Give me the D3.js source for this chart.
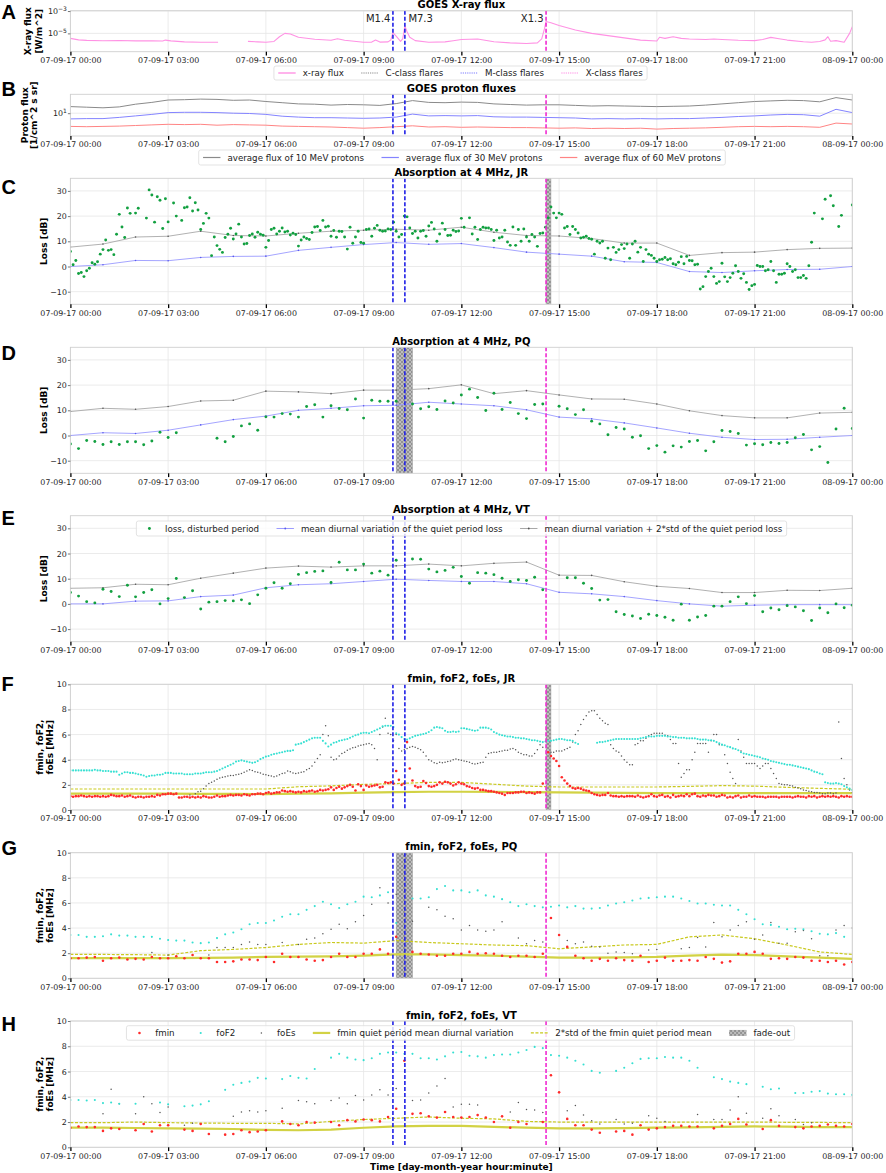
<!DOCTYPE html>
<html>
<head>
<meta charset="utf-8">
<script src="https://cdn.jsdelivr.net/npm/d3@7"></script>
<style>
  body { margin: 0; background: #fff; }
  svg { display: block; }
</style>
</head>
<body>
<svg id="chart" width="886" height="1173"></svg>
<script>
// ---------------- data ----------------
const hourTicks = [0, 3, 6, 9, 12, 15, 18, 21, 24];
const tickLabels = ['07-09-17 00:00', '07-09-17 03:00', '07-09-17 06:00', '07-09-17 09:00',
  '07-09-17 12:00', '07-09-17 15:00', '07-09-17 18:00', '07-09-17 21:00', '08-09-17 00:00'];

const flareNames = ['M1.4', 'M7.3', 'X1.3'];
const flareTimes = ['09:54', '10:16', '14:36'];
const flareClass = ['M', 'M', 'X'];

// GOES X-ray flux, log10(W/m^2)
const xrayTimes = ['00:00','00:15','00:30','01:00','01:30','02:00','02:30','02:50','02:55','03:05','03:30','04:00','04:15','04:32','05:00',
  '05:27','05:45','06:00','06:15','06:25','06:35','06:45','07:00','07:30','08:00','08:12','08:25','09:00','09:15','09:22','09:30','09:45',
  '09:50','09:54','10:00','10:08','10:12','10:16','10:20','10:25','10:35','11:00','11:30','11:45','12:00','12:30','13:00','13:30','14:00',
  '14:20','14:28','14:33','14:36','14:45','15:00','15:30','16:00','16:30','17:00','17:30','18:00','18:05','18:15','18:30','18:45','19:00',
  '19:30','19:45','20:00','20:30','21:00','21:15','21:30','21:45','22:00','22:30','22:45','23:00','23:10','23:15','23:20','23:30','23:45',
  '23:55','24:00'];
const xrayLog = [-5.45,-5.58,-5.63,-5.66,-5.64,-5.67,-5.66,-5.68,-5.6,-5.67,-5.76,-5.8,-5.79,-5.8,null,
  -5.72,-5.76,-5.8,-5.72,-5.3,-5.0,-5.05,-5.35,-5.52,-5.62,-5.48,-5.62,-5.8,-5.78,-5.6,-5.78,-5.76,
  -5.6,-4.94,-5.25,-5.72,-5.5,-4.34,-4.85,-5.35,-5.65,-5.8,-5.76,-5.66,-5.55,-5.5,-5.75,-5.85,-5.9,
  -5.85,-5.5,-4.6,-3.93,-4.05,-4.3,-4.7,-5.0,-5.2,-5.4,-5.6,-5.68,-5.35,-5.45,-5.3,-5.45,-5.5,
  -5.55,-5.5,-5.55,-5.62,-5.65,-5.55,-5.36,-5.48,-5.6,-5.75,-5.8,-5.72,-5.58,-5.3,-5.7,-5.65,-5.8,
  -5.0,-4.4];

// GOES proton fluxes, log10, every 30 min
const proton10 = [1.22,1.2,1.18,1.21,1.3,1.36,1.44,1.45,1.47,1.46,1.43,1.44,1.39,1.35,1.31,1.3,1.27,1.29,1.28,1.26,1.32,1.42,1.36,1.35,
  1.37,1.36,1.31,1.29,1.27,1.28,1.28,1.26,1.24,1.25,1.24,1.23,1.22,1.23,1.24,1.27,1.31,1.35,1.39,1.41,1.43,1.42,1.38,1.52,1.44];
const proton30 = [0.81,0.82,0.82,0.86,0.91,0.96,1.02,1.03,1.03,1.02,1.0,0.99,0.96,0.9,0.87,0.85,0.85,0.84,0.83,0.84,0.87,0.97,0.91,0.92,
  0.91,0.92,0.88,0.87,0.87,0.86,0.85,0.84,0.81,0.82,0.81,0.82,0.81,0.82,0.82,0.84,0.86,0.89,0.91,0.94,0.96,0.95,0.9,1.13,1.02];
const proton60 = [0.56,0.55,0.56,0.57,0.59,0.61,0.63,0.62,0.63,0.6,0.62,0.61,0.6,0.57,0.56,0.55,0.54,0.52,0.5,0.52,0.55,0.58,0.54,0.55,
  0.53,0.54,0.53,0.52,0.52,0.51,0.5,0.51,0.49,0.5,0.49,0.5,0.47,0.49,0.5,0.51,0.53,0.55,0.56,0.55,0.56,0.55,0.53,0.67,0.64];

// Absorption at 4 MHz, JR: loss every 5 min (dB)
const lossJR = [
  6.0,0.7,2.4,-2.8,-2.4,-4.0,-1.7,-0.7,1.5,0.9,1.9,4.9,
  6.7,10.5,6.4,6.7,4.7,12.8,20.7,15.7,11.5,23.2,21.1,null,
  21.2,23.1,null,null,19.2,30.4,28.4,17.6,27.7,26.3,15.1,26.9,
  17.7,null,25.2,20.0,null,18.3,23.3,23.6,27.3,22.0,25.3,22.4,
  14.7,17.1,21.1,19.2,4.3,11.7,8.3,6.8,5.6,11.5,12.8,15.2,
  10.9,12.9,16.8,11.7,8.9,9.1,12.3,12.9,11.6,13.6,12.8,12.4,
  7.6,10.3,14.7,15.2,12.9,14.0,15.3,13.7,14.0,12.5,13.2,12.7,
  8.1,10.5,11.7,11.1,10.7,13.5,15.7,15.9,14.3,18.3,15.7,16.0,
  12.0,14.3,11.6,14.0,13.9,11.7,6.9,15.6,9.2,11.7,14.0,9.5,
  9.2,14.7,14.9,12.0,15.2,16.3,14.4,14.0,14.1,14.9,14.7,17.6,
  14.0,11.7,12.7,20.0,19.7,15.3,13.1,14.0,11.3,14.0,14.3,12.0,
  16.1,17.5,14.9,10.0,12.9,17.2,14.7,12.3,12.4,14.4,13.9,14.1,
  19.1,15.6,null,19.3,12.9,15.6,10.7,14.7,15.6,15.3,15.3,14.7,
  10.3,14.4,11.3,11.7,14.4,9.7,8.4,15.7,8.4,14.7,10.0,14.9,
  11.7,10.0,12.7,11.7,8.0,13.1,13.3,15.6,19.3,23.6,21.2,19.3,
  21.2,20.7,15.3,15.9,12.7,15.9,14.7,13.3,11.3,11.6,12.0,11.1,
  10.8,4.9,10.0,9.3,10.0,3.3,7.3,2.7,7.6,5.6,6.7,8.7,
  7.1,8.9,3.3,8.9,10.0,5.7,7.6,2.0,6.7,4.9,4.4,3.3,
  2.0,2.7,2.9,3.6,2.7,3.1,1.1,0.7,1.7,3.9,1.1,4.0,
  2.4,2.3,0.7,0.9,-8.9,-8.0,-4.0,-2.0,-0.7,-4.0,-6.7,-6.0,
  1.3,-4.1,-6.0,-4.4,-2.7,0.3,-2.0,-4.7,-2.9,-6.3,-9.1,-7.6,
  -7.1,0.4,0.0,0.0,-1.7,-1.3,2.0,-1.7,-6.3,-3.1,-3.1,-2.7,
  1.1,0.0,-2.0,-1.3,-4.4,-4.4,-3.6,-4.7,0.3,9.6,21.2,null,
  null,18.9,26.7,null,28.1,24.1,null,15.9,20.3,null,null,null,
  24.4];
// quiet period mean and mean + 2*std, hourly
const quietJR = [0,0.7,2.4,2.3,3.6,4.0,4.1,6.4,7.6,8.7,9.5,8.8,9.1,7.5,5.7,4.9,4.1,1.9,1.6,-2.0,-2.4,-1.7,-1.2,-1.1,0];
const quietStdJR = [7.7,8.9,11.7,12.0,14.0,12.3,12.1,13.2,14.0,14.4,14.8,14.4,15.6,13.6,12.3,12.1,11.1,9.3,9.3,4.4,5.5,5.7,6.7,7.2,7.3];

// Absorption at 4 MHz, PQ: loss every 15 min
const lossPQ = [-3.4,-5.2,-2.0,-2.4,-3.6,-2.5,-3.6,-2.5,-2.5,-3.7,-2.2,1.3,-0.8,1.1,null,null,null,null,-1.1,-2.5,-0.4,3.8,4.6,2.1,
  7.4,7.3,8.7,8.5,7.3,11.5,12.2,7.3,11.8,10.7,10.2,14.5,6.9,14.0,13.6,13.6,13.6,null,12.5,10.6,11.4,10.3,13.7,12.9,
  16.1,18.4,15.1,9.9,16.8,10.3,13.1,8.7,6.7,12.3,12.5,null,11.6,10.6,8.3,10.2,5.7,4.6,0.3,3.2,2.6,-0.7,-0.1,-5.2,
  -4.0,-6.6,-4.1,-4.6,-2.4,-2.0,-6.1,-2.5,2.0,1.6,0.8,-3.8,-3.3,-3.7,-2.8,-3.2,-2.8,-0.9,0.4,-5.7,-4.4,-10.7,2.6,10.8,2.8];
const quietPQ = [0,1.1,0.8,2.1,4.2,6.3,7.7,10.0,10.8,11.8,12.0,13.2,12.5,11.8,10.2,7.3,6.6,5.0,3.0,0.9,-0.7,-1.6,-1.5,-0.7,0];
const quietStdPQ = [9.5,10.8,10.4,11.5,13.7,14.0,17.6,17.3,16.6,18.0,18.0,18.6,20.1,16.6,17.8,16.1,14.5,14.4,12.5,9.8,7.9,7.0,7.0,8.9,9.2];

// Absorption at 4 MHz, VT: loss every 15 min
const lossVT = [4.5,3.1,0.9,0.4,5.8,4.9,2.9,7.4,2.8,4.5,5.6,0.0,2.1,10.1,2.5,5.2,-2.0,0.7,0.9,1.3,1.2,1.6,0.1,3.6,
  6.2,8.4,6.2,8.0,11.7,12.4,12.9,13.1,8.5,16.5,13.5,13.5,15.8,12.2,13.0,11.4,17.3,null,17.8,17.7,13.8,12.7,13.3,14.5,
  10.9,8.2,12.4,12.2,11.6,10.2,8.9,9.6,9.3,10.6,5.6,null,null,10.4,10.4,8.2,6.1,1.5,1.7,-3.1,-4.2,-4.8,-5.8,-4.1,
  -4.6,-5.3,-6.5,-0.1,-6.5,-5.2,-4.6,-0.9,-0.9,0.9,2.8,0.1,3.3,-3.1,-1.6,-2.3,-0.7,-1.2,-2.7,-6.6,-1.6,-3.5,0.0,-1.5,-0.5];
const quietVT = [0,0,1.1,1.2,2.9,3.5,6.4,7.6,8.0,8.9,9.8,9.3,8.9,8.9,8.0,4.6,4.0,2.9,1.3,0,-0.9,-0.5,-0.3,-0.3,-0.3];
const quietStdVT = [6.2,6.4,7.8,7.6,10.2,12.2,14.2,15.0,14.6,15.1,15.1,15.8,15.1,16.1,16.6,11.4,11.3,8.8,7.0,6.1,4.5,4.5,5.4,5.3,6.2];

// fmin, foF2, foEs at JR every 5 min (MHz)
const fminJR = [
  1.1,1.05,1.1,1.1,1.15,1.1,1.05,1.1,1.05,1.1,1.1,1.05,
  1.1,1.05,1.1,1.2,1.15,1.1,1.1,1.15,1.05,1.1,1.15,1.05,
  1.0,1.05,1.05,1.0,1.05,1.05,1.1,1.05,1.2,1.15,1.25,1.25,
  1.3,1.3,1.25,1.3,1.0,1.0,1.05,1.05,1.0,1.05,1.0,1.05,
  1.0,1.1,1.05,1.0,1.0,1.05,1.15,1.05,1.1,1.1,1.15,1.2,
  1.15,1.2,1.2,1.15,1.25,1.2,1.15,1.25,1.25,1.3,1.3,1.25,
  1.35,1.4,1.3,1.35,1.4,1.4,1.55,1.5,1.45,1.5,1.45,1.4,
  1.45,1.4,1.5,1.45,1.5,1.55,1.45,1.5,1.6,1.55,1.6,1.65,
  1.8,1.6,1.75,1.85,1.7,1.8,1.9,2.0,1.85,1.55,2.05,1.9,
  1.6,1.95,1.85,1.9,1.95,2.0,1.8,1.85,2.2,2.15,2.2,2.1,
  3.1,2.4,2.0,2.1,5.4,3.3,2.35,1.9,1.8,1.85,2.3,2.15,
  1.9,1.85,1.9,2.0,2.2,2.1,2.25,2.2,2.1,1.95,2.05,2.2,
  2.1,2.05,1.9,1.85,1.75,1.7,1.75,1.6,1.6,1.55,1.5,1.5,
  1.45,1.4,1.35,1.3,1.2,1.35,1.35,1.35,1.4,1.4,1.45,1.45,
  1.35,1.4,1.35,1.3,1.4,1.4,2.1,null,4.6,4.3,4.1,3.9,
  3.5,2.6,2.35,2.1,1.9,1.75,1.7,1.75,1.7,1.6,1.55,1.5,
  1.35,1.25,1.2,1.15,1.2,1.2,1.35,1.15,1.1,1.1,1.05,1.1,
  1.05,1.1,1.1,1.1,1.05,1.15,1.05,1.0,1.05,1.1,1.25,1.1,
  1.05,1.15,1.2,1.05,1.1,1.0,1.2,1.05,1.1,1.15,1.1,1.25,
  1.1,1.25,1.3,1.1,1.05,1.15,1.1,1.2,1.15,1.15,1.05,1.1,
  1.2,1.15,1.0,1.05,1.0,1.1,1.15,1.0,1.05,1.05,1.15,1.05,
  1.1,1.05,1.05,1.05,1.0,1.05,1.05,1.05,1.05,1.0,1.05,1.05,
  1.05,1.05,1.0,1.05,1.1,1.05,1.05,1.0,1.1,1.05,1.1,1.0,
  1.05,1.1,1.05,1.1,1.05,1.1,1.05,1.0,1.1,1.05,1.1,1.05,
  1.05];
const foF2JR = [
  3.15,3.15,3.15,3.15,3.15,3.15,3.15,3.15,3.15,3.2,3.15,3.15,
  3.1,3.1,3.1,3.05,3.05,3.05,2.8,2.9,3.0,3.0,2.95,2.95,
  2.9,2.85,2.8,2.75,2.65,2.7,2.75,2.75,2.8,2.8,2.85,2.95,
  2.95,2.95,2.9,2.9,2.9,2.9,2.85,2.85,2.85,2.85,2.9,2.9,
  2.9,2.95,3.0,3.0,3.0,3.05,3.1,3.2,3.3,3.4,3.5,3.6,
  3.7,3.85,3.9,3.95,3.9,3.85,3.8,3.75,3.8,3.9,4.05,4.15,
  4.25,4.3,4.4,4.45,4.5,4.55,4.6,4.65,4.7,4.7,4.75,5.2,
  5.25,5.3,5.4,5.5,5.6,5.7,5.75,5.75,5.75,5.5,5.3,5.05,
  5.2,5.35,5.4,5.5,5.55,5.6,5.65,5.75,5.85,5.95,6.0,6.1,
  6.15,6.15,6.1,6.2,6.3,6.4,6.5,6.65,6.7,6.7,6.7,6.6,
  6.1,6.0,5.8,5.65,5.6,5.7,5.8,5.9,5.95,6.0,6.05,6.1,
  6.2,6.35,6.55,6.6,6.55,6.5,6.3,6.2,6.2,6.25,6.2,6.25,
  6.5,6.5,6.45,6.4,6.35,6.3,6.35,6.55,6.55,6.55,6.5,6.4,
  6.2,6.1,6.0,5.95,5.9,5.85,5.85,5.8,5.75,5.75,5.7,5.7,
  5.65,5.6,5.55,5.55,5.5,5.45,5.4,5.45,5.5,5.5,5.55,5.6,
  5.65,5.65,5.6,5.55,5.55,5.5,5.35,5.25,null,null,null,null,
  null,null,5.35,5.4,5.4,5.45,5.5,5.55,5.6,5.65,5.65,5.65,
  5.65,5.65,5.65,5.65,5.65,5.65,5.7,5.75,5.8,5.85,5.85,5.85,
  5.9,5.9,5.9,5.9,5.85,5.85,5.8,5.8,5.75,5.75,5.75,5.7,
  5.7,5.7,5.7,5.65,5.6,5.6,5.6,5.55,5.55,5.5,5.4,5.3,
  5.2,5.15,5.05,5.0,4.9,4.85,4.75,4.6,4.5,4.45,4.4,4.35,
  4.3,4.25,4.2,4.1,4.05,4.0,3.9,3.85,3.8,3.75,3.7,3.65,
  3.6,3.6,3.55,3.5,3.45,3.4,3.35,3.3,3.25,3.15,3.05,3.0,
  2.9,2.85,2.2,2.15,2.1,2.1,2.15,2.1,2.05,1.9,1.8,1.7,
  1.6];
const foEsJR = [
  null,null,null,null,null,null,null,null,null,null,null,null,
  null,null,null,null,null,null,null,null,null,null,null,null,
  null,null,null,null,null,null,null,null,null,null,null,null,
  null,null,null,null,null,null,null,null,1.2,null,1.3,1.45,
  1.5,1.7,1.9,2.1,2.2,2.3,2.45,2.55,2.6,2.65,2.7,2.75,
  2.75,2.8,2.85,2.9,3.0,3.1,3.2,3.15,3.05,3.0,2.95,2.85,
  2.8,2.75,2.7,2.65,2.7,2.8,2.9,2.95,3.1,3.05,2.95,2.9,
  2.95,3.0,3.05,3.2,3.3,3.5,3.8,4.1,4.4,6.0,6.7,5.9,
  4.2,4.0,4.05,4.3,4.5,4.6,4.75,4.85,4.95,5.0,5.1,5.15,
  5.2,5.25,5.3,5.2,4.9,4.0,6.0,6.6,7.3,6.1,6.0,5.5,
  6.0,4.9,4.7,4.8,4.9,5.0,5.05,5.0,4.9,4.8,4.6,4.3,
  4.0,3.9,3.75,3.7,3.8,3.75,3.8,3.85,3.9,4.0,4.05,4.0,
  3.95,3.9,3.85,3.8,3.7,3.65,3.7,3.75,3.8,4.2,4.5,4.55,
  4.6,4.6,4.65,4.7,4.75,4.75,4.85,4.9,4.8,4.6,4.5,4.4,
  4.4,4.3,4.3,4.5,4.8,5.2,5.0,null,null,4.6,4.6,4.7,
  4.7,4.7,4.8,4.9,5.0,5.4,6.0,6.3,6.8,7.2,7.5,7.8,
  7.9,7.9,7.6,7.3,7.1,6.9,6.8,5.2,4.9,4.7,4.6,4.3,
  4.0,3.8,3.6,3.6,5.2,5.3,5.5,5.5,5.7,5.9,6.0,6.1,
  6.1,6.1,6.1,5.95,5.9,5.6,5.3,5.3,3.7,2.6,2.9,3.2,
  3.2,4.0,4.6,5.3,5.3,5.3,5.3,4.6,5.5,6.0,6.0,5.2,
  5.2,4.4,3.7,3.0,2.5,2.1,5.6,4.7,4.2,3.7,3.7,3.7,
  3.7,3.5,3.3,3.5,3.7,3.7,3.3,2.9,2.5,2.1,2.05,2.0,
  2.0,1.95,1.9,1.8,1.75,1.7,1.6,1.55,1.5,1.45,1.4,1.4,
  1.35,1.3,1.3,1.35,1.35,1.3,1.35,7.0,4.1,2.5,2.0,1.6,
  1.4];
const fminMeanJR = [1.3,1.3,1.3,1.3,1.28,1.28,1.27,1.3,1.33,1.38,1.42,1.45,1.45,1.44,1.42,1.4,1.38,1.36,1.35,1.35,1.35,1.35,1.35,1.35,1.35];
const fminStdJR = [1.67,1.67,1.67,1.67,1.67,1.67,1.67,1.85,1.92,2.04,2.1,2.2,2.2,2.05,1.9,1.83,1.83,1.83,1.83,1.88,1.94,1.9,1.8,1.72,1.65];

// fmin, foF2, foEs at PQ every 15 min
const fminPQ = [1.6,1.6,1.65,1.7,1.4,1.6,1.65,1.5,1.55,1.5,1.7,1.6,1.6,1.75,1.6,1.85,1.6,1.6,1.3,1.3,1.35,1.5,1.5,1.45,
  1.7,1.3,1.95,1.7,1.7,1.5,1.4,1.45,1.7,1.95,1.7,1.7,1.95,1.95,2.3,1.95,3.3,null,2.1,1.95,1.9,1.8,1.8,1.95,
  1.95,2.1,1.95,2.0,1.95,1.8,1.7,1.8,1.8,1.7,1.95,4.8,3.45,2.5,1.8,1.6,1.4,1.55,1.4,1.6,1.45,1.4,1.8,1.3,
  1.4,1.65,1.4,1.4,1.45,1.4,1.7,1.55,1.25,1.35,1.95,1.95,2.1,1.95,1.55,1.6,1.55,1.7,1.65,1.4,1.4,1.3,1.4,1.1,1.3];
const foF2PQ = [3.45,3.45,3.3,3.3,3.35,3.5,3.4,3.4,3.3,3.3,3.3,3.15,3.05,3.0,3.0,2.85,2.8,2.85,3.2,3.5,3.65,3.9,4.3,4.4,
  4.4,4.6,4.9,5.1,5.1,5.45,5.75,6.1,5.9,5.6,5.9,6.1,6.5,6.45,6.6,6.85,4.4,null,6.35,6.35,6.45,7.1,7.35,7.0,
  7.0,6.85,7.0,6.6,6.5,6.3,6.05,5.75,5.9,5.75,5.65,5.7,5.8,5.65,5.75,5.55,5.55,5.6,5.8,5.95,6.05,6.2,6.35,6.4,
  6.45,6.5,6.5,6.35,6.15,5.95,5.95,5.85,5.8,5.8,5.45,5.1,4.7,4.3,4.25,4.1,3.9,3.95,3.9,3.75,3.55,3.5,3.6,3.3,null];
const foEsPQ = [null,null,null,null,null,null,null,null,null,null,2.05,null,1.85,null,null,null,null,1.85,2.45,2.45,2.45,2.7,2.9,2.7,
  2.7,null,2.85,null,2.7,3.1,3.2,3.55,3.9,4.3,3.95,4.5,5.0,5.9,7.2,6.0,6.7,null,4.55,null,5.65,5.45,4.95,4.75,
  3.85,4.2,3.85,3.75,3.85,4.5,null,3.2,2.75,3.0,2.9,null,null,3.0,2.75,2.9,2.55,2.5,2.0,2.1,2.05,1.95,null,2.25,
  2.3,null,null,2.35,2.45,3.25,2.5,4.45,3.3,3.85,4.2,4.5,3.1,3.45,4.45,2.8,2.8,3.7,3.8,3.15,1.8,1.8,3.85,4.2,4.0];
const fminMeanPQ = [1.6,1.6,1.6,1.6,1.62,1.65,1.7,1.72,1.75,1.8,1.9,1.9,1.85,1.8,1.72,1.65,1.65,1.67,1.7,1.8,1.88,1.85,1.75,1.65,1.55];
const fminStdPQ = [1.9,1.9,1.88,1.85,2.2,2.3,2.45,2.7,2.85,2.8,3.0,2.85,2.75,2.65,2.6,2.35,2.5,2.65,2.7,3.3,3.45,3.15,2.65,2.1,1.9];

// fmin, foF2, foEs at VT every 15 min
const fminVT = [1.55,1.65,1.6,1.6,1.3,1.5,1.45,null,1.35,1.85,1.25,1.75,1.75,null,1.4,1.3,1.85,1.05,null,1.0,1.05,1.35,1.2,1.25,
  1.35,null,2.05,1.85,1.75,2.0,1.95,null,2.0,1.75,2.15,2.05,2.2,2.15,2.05,2.4,3.05,6.85,2.65,2.7,2.45,2.35,2.8,2.4,
  2.35,2.4,2.55,2.35,2.0,2.45,1.55,2.0,1.85,null,2.0,5.7,4.35,2.25,1.75,1.75,1.4,1.15,null,1.25,1.3,1.0,1.75,1.4,
  1.5,1.6,1.7,1.7,1.65,1.65,null,1.5,1.7,1.85,2.25,1.8,null,1.45,2.15,1.7,null,1.6,1.5,1.65,1.7,1.8,1.7,1.65,1.85];
const foF2VT = [3.75,3.75,3.7,3.75,3.5,3.55,3.45,null,3.45,null,null,3.55,3.4,null,3.25,3.3,3.4,3.65,null,4.55,4.95,5.1,5.2,5.5,
  5.45,null,5.4,5.65,5.5,5.45,6.2,null,7.1,7.4,7.1,6.95,6.9,7.05,7.4,7.5,7.5,7.4,7.4,7.05,7.05,6.95,7.2,7.5,
  7.55,7.25,7.2,7.1,7.3,7.35,7.35,7.5,7.7,7.95,7.85,7.3,7.25,7.1,6.85,6.55,6.05,5.9,null,6.05,6.3,6.65,7.0,7.05,
  7.05,7.15,7.1,7.1,6.85,6.3,null,5.55,5.4,5.2,5.1,5.0,null,4.8,4.6,4.65,null,4.3,4.3,4.4,4.45,4.25,4.2,4.2,4.15];
const foEsVT = [null,null,null,null,2.65,4.6,3.45,null,2.65,4.0,3.45,2.75,3.2,null,1.75,1.9,null,null,null,null,2.45,2.8,2.9,2.8,
  2.9,null,3.1,null,3.7,3.6,3.45,null,3.7,3.9,3.45,4.1,3.75,4.15,4.55,4.15,4.65,null,3.7,3.75,4.3,4.85,5.45,3.2,
  3.4,3.4,3.35,null,null,null,2.8,3.55,3.0,2.95,2.75,null,null,2.9,3.3,2.55,2.1,1.85,null,2.2,1.85,1.9,null,2.5,
  2.3,2.05,null,null,null,2.6,null,2.2,2.2,2.95,4.0,2.7,null,2.3,3.05,2.5,null,2.2,1.8,1.95,null,null,null,null,null];
const fminMeanVT = [1.55,1.55,1.53,1.5,1.48,1.45,1.38,1.35,1.4,1.55,1.65,1.7,1.7,1.62,1.55,1.5,1.5,1.52,1.55,1.58,1.62,1.65,1.63,1.6,1.6];
const fminStdVT = [1.95,1.95,2.0,1.95,1.92,1.9,1.9,1.85,2.05,2.2,2.3,2.4,2.3,2.25,2.05,2.0,2.0,2.0,2.0,2.0,2.0,2.0,1.98,1.97,1.95];

// fade-out intervals (start, end)
const fadeJR = ['14:36', '14:45'];
const fadePQ = ['10:00', '10:30'];

// ---------------- layout ----------------
const FONT = '"DejaVu Sans", Verdana, sans-serif';
const layout = {
  A: {top: 10.7, bottom: 51.7, letterY: 18.5},
  B: {top: 94.3, bottom: 136, letterY: 96},
  C: {top: 178.3, bottom: 304.3, letterY: 193.5},
  D: {top: 347.3, bottom: 473.3, letterY: 360},
  E: {top: 515.7, bottom: 641.7, letterY: 524.5},
  F: {top: 684.3, bottom: 810, letterY: 691},
  G: {top: 852.7, bottom: 978.3, letterY: 855},
  H: {top: 1021, bottom: 1147.3, letterY: 1031}
};
const TICK_FS = 7.9, LEG_FS = 8.7;
const C_GREEN = '#12a040', C_QUIET = '#9b9bff', C_QUIET_PT = '#5a5aee', C_STD = '#a8a8a8', C_STD_PT = '#555';
const C_FMIN = '#ff2a2a', C_FOF2 = '#35e0d2', C_FOES = '#555555', C_YEL = '#d2d244', C_YELD = '#c9c91e';
const C_M = '#1f1fe6', C_X = '#f02ad2', C_XRAY = '#ff92e4';

const svg = d3.select('#chart');
svg.append('rect').attr('width', 886).attr('height', 1173).attr('fill', '#fff');
const defs = svg.append('defs');
const hatch = defs.append('pattern').attr('id', 'hatch').attr('patternUnits', 'userSpaceOnUse')
  .attr('width', 4).attr('height', 4);
hatch.append('rect').attr('width', 4).attr('height', 4).attr('fill', '#bdbdbd');
hatch.append('path').attr('d', 'M0,0L4,4M4,0L0,4M-1,3L1,5M3,-1L5,1').attr('stroke', '#808080').attr('stroke-width', 0.7);

const X = d3.scaleLinear().domain([0, 24]).range([70.4, 852.3]);
const hm = s => { const [h, m] = s.split(':').map(Number); return h + m / 60; };
const regular = (vals, stepMin) => vals.map((v, i) => ({t: i * stepMin / 60, v}));

function panel(key, title, y, yTicks, logTicks) {
  const L = layout[key];
  y.range([L.bottom, L.top]);
  const g = svg.append('g').attr('class', 'panel-' + key);
  const grid = g.append('g').attr('stroke', '#e6e6e6').attr('stroke-width', 0.8);
  grid.selectAll('line.vx').data(hourTicks).join('line').attr('class', 'vx')
    .attr('x1', d => X(d)).attr('x2', d => X(d)).attr('y1', L.top).attr('y2', L.bottom);
  grid.selectAll('line.hy').data(yTicks).join('line').attr('class', 'hy')
    .attr('x1', X(0)).attr('x2', X(24)).attr('y1', d => y(d)).attr('y2', d => y(d));
  defs.append('clipPath').attr('id', 'clip-' + key).append('rect')
    .attr('x', X(0)).attr('y', L.top).attr('width', X(24) - X(0)).attr('height', L.bottom - L.top);
  const body = g.append('g').attr('clip-path', `url(#clip-${key})`);
  g.append('text').attr('x', (X(0) + X(24)) / 2).attr('y', L.top - 2.5).attr('text-anchor', 'middle')
    .attr('font-family', FONT).attr('font-weight', 'bold').attr('font-size', 10).text(title);
  g.append('text').attr('x', 1.5).attr('y', L.letterY).attr('font-family', '"Liberation Sans", Arial, sans-serif')
    .attr('font-weight', 'bold').attr('font-size', 20).text(key);
  return {key, g, body, y, L, yTicks, logTicks};
}

function ylabel(p, lines, xs) {
  const cy = (p.L.top + p.L.bottom) / 2;
  lines.forEach((s, i) => {
    p.g.append('text').attr('transform', `translate(${xs[i]},${cy}) rotate(-90)`)
      .attr('text-anchor', 'middle').attr('dominant-baseline', 'central')
      .attr('font-family', FONT).attr('font-weight', 'bold').attr('font-size', 9).text(s);
  });
}

function finish(p) {
  const L = p.L;
  // flare markers
  flareTimes.forEach((t, i) => {
    p.body.append('line').attr('x1', X(hm(t))).attr('x2', X(hm(t))).attr('y1', L.top).attr('y2', L.bottom)
      .attr('stroke', flareClass[i] === 'X' ? C_X : C_M).attr('stroke-width', 1.6).attr('stroke-dasharray', '4,2');
  });
  p.g.append('rect').attr('x', X(0)).attr('y', L.top).attr('width', X(24) - X(0)).attr('height', L.bottom - L.top)
    .attr('fill', 'none').attr('stroke', '#cfcfcf').attr('stroke-width', 0.9);
  const xa = p.g.append('g').attr('transform', `translate(0,${L.bottom})`)
    .call(d3.axisBottom(X).tickValues(hourTicks).tickFormat((d, i) => tickLabels[i]).tickSize(3.8).tickPadding(2));
  xa.select('.domain').remove();
  xa.selectAll('line').attr('stroke', '#000').attr('stroke-width', 1.3);
  xa.selectAll('text').attr('font-family', FONT).attr('font-size', TICK_FS).attr('fill', '#222');
  const ya = p.g.append('g').attr('transform', `translate(${X(0)},0)`)
    .call(d3.axisLeft(p.y).tickValues(p.yTicks).tickSize(2.5).tickPadding(1)
      .tickFormat(d => p.logTicks ? '' : d3.format('d')(d).replace('-', '\u2212')));
  ya.select('.domain').remove();
  ya.selectAll('line').attr('stroke', '#555').attr('stroke-width', 0.8);
  ya.selectAll('text').attr('font-family', FONT).attr('font-size', TICK_FS).attr('fill', '#222');
  if (p.logTicks) {
    ya.selectAll('.tick text').each(function (d) {
      const t = d3.select(this);
      t.append('tspan').text('10');
      t.append('tspan').attr('dy', '-0.5em').attr('font-size', 6)
        .text(String(Math.round(Math.log10(d))).replace('-', '\u2212'));
    });
  }
}

function line(p, data, color, width, dash) {
  p.body.append('path').datum(data).attr('fill', 'none').attr('stroke', color).attr('stroke-width', width)
    .attr('stroke-dasharray', dash || null).attr('stroke-linejoin', 'round')
    .attr('d', d3.line().defined(d => d.v != null).x(d => X(d.t)).y(d => p.y(d.v)));
}
function dots(p, data, color, r) {
  p.body.append('g').selectAll('circle').data(data.filter(d => d.v != null)).join('circle')
    .attr('cx', d => X(d.t)).attr('cy', d => p.y(d.v)).attr('r', r).attr('fill', color);
}
function fade(p, span) {
  const a = X(hm(span[0])), b = X(hm(span[1]));
  p.body.append('rect').attr('x', a).attr('y', p.L.top).attr('width', b - a).attr('height', p.L.bottom - p.L.top)
    .attr('fill', 'url(#hatch)').attr('stroke', '#9a9a9a').attr('stroke-width', 0.5);
}

// legend handles
const hLine = (color, w, dash, pt) => (g, len) => {
  g.append('line').attr('x1', 0).attr('x2', len).attr('y1', 0).attr('y2', 0)
    .attr('stroke', color).attr('stroke-width', w).attr('stroke-dasharray', dash || null);
  if (pt) g.append('circle').attr('cx', len / 2).attr('r', 0.9).attr('fill', pt);
};
const hDot = (color, r) => (g, len) => g.append('circle').attr('cx', len / 2).attr('r', r).attr('fill', color);
const hPatch = () => (g, len) => g.append('rect').attr('x', 0).attr('y', -3).attr('width', len).attr('height', 6)
  .attr('fill', 'url(#hatch)');

function legend(items, cx, top, h) {
  const g = svg.append('g');
  const box = g.append('rect');
  const row = g.append('g');
  const handle = 2 * LEG_FS, gap = 0.8 * LEG_FS, col = 2 * LEG_FS, pad = 0.5 * LEG_FS;
  let xx = 0;
  items.forEach(it => {
    const ig = row.append('g').attr('transform', `translate(${xx},0)`);
    it.handle(ig, handle);
    const t = ig.append('text').attr('x', handle + gap).attr('y', 3.1).attr('font-family', FONT)
      .attr('font-size', LEG_FS).attr('fill', '#222').text(it.label);
    xx += handle + gap + t.node().getComputedTextLength() + col;
  });
  const w = xx - col + 2 * pad;
  row.attr('transform', `translate(${cx - w / 2 + pad},${top + h / 2})`);
  box.attr('x', cx - w / 2).attr('y', top).attr('width', w).attr('height', h).attr('rx', 2)
    .attr('fill', '#fff').attr('fill-opacity', 0.8).attr('stroke', '#dcdcdc').attr('stroke-width', 0.8);
}

// ---------------- A: X-ray flux ----------------
const pA = panel('A', 'GOES X-ray flux', d3.scaleLog().domain([Math.pow(10, -6.64), Math.pow(10, -2.97)]), [1e-5, 1e-3], true);
const xray = xrayTimes.map((t, i) => ({t: hm(t), v: xrayLog[i] == null ? null : Math.pow(10, xrayLog[i])}));
line(pA, xray, C_XRAY, 1.1);
finish(pA);
flareNames.forEach((n, i) => {
  const right = i !== 1;
  pA.g.append('text').attr('x', X(hm(flareTimes[i])) + (right ? -2.5 : 3.5)).attr('y', 21.5)
    .attr('text-anchor', right ? 'end' : 'start').attr('font-family', FONT).attr('font-size', 10).attr('fill', '#222').text(n);
});
ylabel(pA, ['X-ray flux', '[W/m^2]'], [28, 38.5]);
legend([
  {label: 'x-ray flux', handle: hLine(C_XRAY, 1.4)},
  {label: 'C-class flares', handle: hLine('#8a8a8a', 1.2, '1.2,1')},
  {label: 'M-class flares', handle: hLine('#7a7aff', 1.2, '1.2,1')},
  {label: 'X-class flares', handle: hLine('#ff8ae4', 1.2, '1.2,1')}
], 460.5, 66, 14);

// ---------------- B: protons ----------------
const pB = panel('B', 'GOES proton fluxes', d3.scaleLog().domain([Math.pow(10, 0.24), Math.pow(10, 1.63)]), [10], true);
const protonColors = ['#8a8a8a', '#8484ff', '#ff8484'];
[proton10, proton30, proton60].forEach((arr, i) => {
  line(pB, regular(arr.map(v => Math.pow(10, v)), 30), protonColors[i], 1);
});
finish(pB);
ylabel(pB, ['Proton flux', '[1/cm^2 s sr]'], [25, 34]);
legend([
  {label: 'average flux of 10 MeV protons', handle: hLine(protonColors[0], 1.2)},
  {label: 'average flux of 30 MeV protons', handle: hLine(protonColors[1], 1.2)},
  {label: 'average flux of 60 MeV protons', handle: hLine(protonColors[2], 1.2)}
], 462, 150, 15);

// ---------------- C-E: absorption ----------------
function absorption(key, title, loss, step, quiet, quietStd, fadeSpan) {
  const p = panel(key, title, d3.scaleLinear().domain([-15, 35]), [-10, 0, 10, 20, 30], false);
  if (fadeSpan) fade(p, fadeSpan);
  const q = regular(quiet, 60), s = regular(quietStd, 60);
  line(p, s, C_STD, 0.9); dots(p, s, C_STD_PT, 0.8);
  line(p, q, C_QUIET, 0.9); dots(p, q, C_QUIET_PT, 0.8);
  dots(p, regular(loss, step), C_GREEN, 1.45);
  finish(p);
  ylabel(p, ['Loss [dB]'], [43.5]);
  return p;
}
absorption('C', 'Absorption at 4 MHz, JR', lossJR, 5, quietJR, quietStdJR, fadeJR);
absorption('D', 'Absorption at 4 MHz, PQ', lossPQ, 15, quietPQ, quietStdPQ, fadePQ);
absorption('E', 'Absorption at 4 MHz, VT', lossVT, 15, quietVT, quietStdVT, null);
legend([
  {label: 'loss, disturbed period', handle: hDot(C_GREEN, 1.45)},
  {label: 'mean diurnal variation of the quiet period loss', handle: hLine(C_QUIET, 1, null, C_QUIET_PT)},
  {label: 'mean diurnal variation + 2*std of the quiet period loss', handle: hLine(C_STD, 1, null, C_STD_PT)}
], 461.5, 521, 15);

// ---------------- F-H: ionosonde ----------------
function ionogram(key, title, fmin, foF2, foEs, step, mean, std, fadeSpan) {
  const p = panel(key, title, d3.scaleLinear().domain([0, 10]), [0, 2, 4, 6, 8, 10], false);
  if (fadeSpan) fade(p, fadeSpan);
  line(p, regular(mean, 60), C_YEL, 2.2);
  line(p, regular(std, 60), C_YELD, 1.2, '3,1.6');
  dots(p, regular(foEs, step), C_FOES, 0.75);
  dots(p, regular(foF2, step), C_FOF2, 1.05);
  dots(p, regular(fmin, step), C_FMIN, 1.3);
  finish(p);
  ylabel(p, ['fmin, foF2,', 'foEs [MHz]'], [39.5, 50]);
  return p;
}
ionogram('F', 'fmin, foF2, foEs, JR', fminJR, foF2JR, foEsJR, 5, fminMeanJR, fminStdJR, fadeJR);
ionogram('G', 'fmin, foF2, foEs, PQ', fminPQ, foF2PQ, foEsPQ, 15, fminMeanPQ, fminStdPQ, fadePQ);
ionogram('H', 'fmin, foF2, foEs, VT', fminVT, foF2VT, foEsVT, 15, fminMeanVT, fminStdVT, null);
legend([
  {label: 'fmin', handle: hDot(C_FMIN, 1.3)},
  {label: 'foF2', handle: hDot(C_FOF2, 1.05)},
  {label: 'foEs', handle: hDot(C_FOES, 0.75)},
  {label: 'fmin quiet period mean diurnal variation', handle: hLine(C_YEL, 2.2)},
  {label: '2*std of the fmin quiet period mean', handle: hLine(C_YELD, 1.2, '3,1.6')},
  {label: 'fade-out', handle: hPatch()}
], 460.5, 1025.7, 14.5);

svg.append('text').attr('x', (X(0) + X(24)) / 2).attr('y', 1170).attr('text-anchor', 'middle')
  .attr('font-family', FONT).attr('font-weight', 'bold').attr('font-size', 9)
  .text('Time [day-month-year hour:minute]');
</script>
</body>
</html>
